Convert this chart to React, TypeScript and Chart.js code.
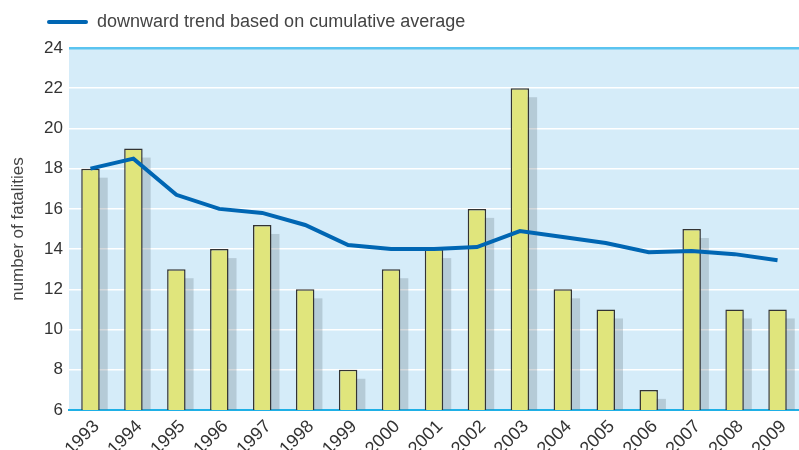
import React, { useEffect, useRef } from "react";
import { Chart, registerables } from "chart.js";

Chart.register(...registerables);

const years = ["1993","1994","1995","1996","1997","1998","1999","2000","2001","2002","2003","2004","2005","2006","2007","2008","2009"];
const fatalities = [18, 19, 13, 14, 15.2, 12, 8, 13, 14, 16, 22, 12, 11, 7, 15, 11, 11];
const trend = [18, 18.5, 16.7, 16, 15.8, 15.2, 14.2, 14, 14, 14.1, 14.9, 14.6, 14.3, 13.85, 13.9, 13.75, 13.45];
const yTicks = [6, 8, 10, 12, 14, 16, 18, 20, 22, 24];
const legendLabel = "downward trend based on cumulative average";
const yTitle = "number of fatalities";

const FONT = "'Liberation Sans', Arial, Helvetica, sans-serif";

export default function App() {
  const ref = useRef<HTMLCanvasElement | null>(null);

  useEffect(() => {
    document.body.style.margin = "0";
    const canvas = ref.current;
    if (!canvas) return;

    const bgPlugin = {
      id: "bg",
      beforeDraw(chart: any) {
        const { ctx, chartArea } = chart;
        ctx.save();
        ctx.fillStyle = "#d5ecf9";
        ctx.fillRect(chartArea.left, chartArea.top, chartArea.right - chartArea.left, chartArea.bottom - chartArea.top);
        ctx.restore();
      },
    };

    const shadowPlugin = {
      id: "shadow",
      beforeDatasetsDraw(chart: any) {
        const meta = chart.getDatasetMeta(0);
        const { ctx, chartArea } = chart;
        ctx.save();
        ctx.fillStyle = "rgba(100,120,130,0.28)";
        meta.data.forEach((bar: any) => {
          const p = bar.getProps(["x", "y", "base", "width"], true);
          const dx = 8, dy = 9;
          const top = p.y + dy;
          const bottom = Math.min(p.base, chartArea.bottom);
          if (top < bottom) {
            ctx.fillRect(p.x - p.width / 2 + dx, top, p.width, bottom - top);
          }
        });
        ctx.restore();
      },
    };

    const legendPlugin = {
      id: "customLegend",
      afterDraw(chart: any) {
        const { ctx } = chart;
        ctx.save();
        ctx.strokeStyle = "#0066b3";
        ctx.lineWidth = 4;
        ctx.lineCap = "round";
        ctx.beginPath();
        ctx.moveTo(49, 22);
        ctx.lineTo(86, 22);
        ctx.stroke();
        ctx.fillStyle = "#444";
        ctx.font = `18px ${FONT}`;
        ctx.textBaseline = "middle";
        ctx.textAlign = "left";
        ctx.fillText(legendLabel, 97, 22);
        ctx.restore();
      },
    };

    const chart = new Chart(canvas, {
      type: "bar",
      data: {
        labels: years,
        datasets: [
          {
            type: "bar",
            label: "fatalities",
            data: fatalities,
            backgroundColor: "#e0e57c",
            borderColor: "#333333",
            borderWidth: 1.5,
            barPercentage: 0.43,
            categoryPercentage: 1,
            order: 2,
          } as any,
          {
            type: "line",
            label: legendLabel,
            data: trend,
            borderColor: "#0066b3",
            borderWidth: 4,
            pointRadius: 0,
            tension: 0,
            fill: false,
            order: 1,
          } as any,
        ],
      },
      options: {
        animation: false,
        responsive: true,
        maintainAspectRatio: false,
        layout: { padding: { top: 48, left: 0, right: 0, bottom: 0 } },
        plugins: {
          legend: { display: false },
          tooltip: { enabled: false },
        },
        scales: {
          x: {
            offset: true,
            grid: { display: false },
            border: { display: true, color: "#1fb0e6", width: 2 },
            ticks: {
              color: "#333",
              font: { family: FONT, size: 18 },
              minRotation: 45,
              maxRotation: 45,
              padding: -2,
              labelOffset: 6,
            },
            afterFit(scale: any) {
              scale.height = 40;
            },
          },
          y: {
            min: 6,
            max: 24,
            afterBuildTicks(scale: any) {
              scale.ticks = yTicks.map((v) => ({ value: v }));
            },
            grid: {
              color: (ctx: any) => (ctx.tick && ctx.tick.value === 24 ? "#5bc4f0" : "#ffffff"),
              lineWidth: (ctx: any) => (ctx.tick && ctx.tick.value === 24 ? 2.5 : 1.5),
              drawTicks: false,
            },
            border: { display: false },
            ticks: {
              color: "#333",
              font: { family: FONT, size: 17 },
              padding: 6,
            },
            title: {
              display: true,
              text: yTitle,
              color: "#444",
              font: { family: FONT, size: 17 },
              padding: { top: 8, bottom: 0 },
            },
            afterFit(scale: any) {
              scale.width = 69;
            },
          },
        },
      },
      plugins: [bgPlugin, shadowPlugin, legendPlugin],
    });

    return () => chart.destroy();
  }, []);

  return (
    <div style={{ position: "relative", width: 799, height: 450 }}>
      <canvas ref={ref} />
    </div>
  );
}
